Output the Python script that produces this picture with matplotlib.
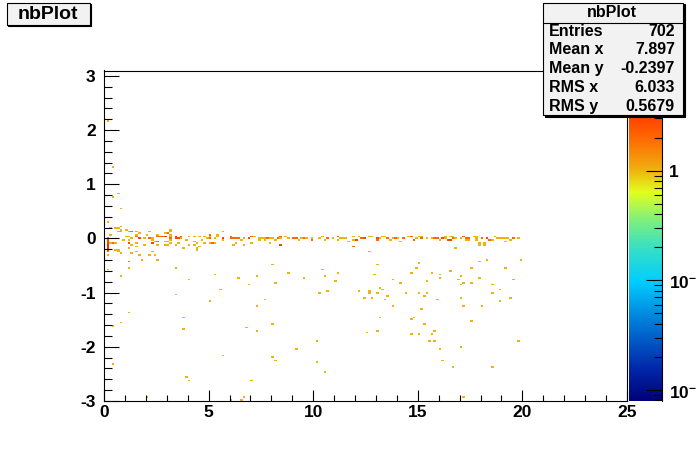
import numpy as np
import matplotlib
matplotlib.use('Agg')
import matplotlib.pyplot as plt
from matplotlib.colors import LinearSegmentedColormap, LogNorm
from matplotlib.patches import Rectangle
from matplotlib.ticker import LogLocator, MultipleLocator, NullFormatter

plt.rcParams['font.family'] = ['Liberation Sans', 'DejaVu Sans']
plt.rcParams['font.weight'] = 'bold'
plt.rcParams['mathtext.fontset'] = 'custom'
plt.rcParams['mathtext.bf'] = 'Liberation Sans:bold'
plt.rcParams['mathtext.rm'] = 'Liberation Sans:bold'
plt.rcParams['axes.unicode_minus'] = False
plt.rcParams['mathtext.default'] = 'bf'

title = 'nbPlot'
stat_names = ['Entries', 'Mean x', 'Mean y', 'RMS x', 'RMS y']
stat_values = ['702', '7.897', '-0.2397', '6.033', '0.5679']

# scattered entries, (x, y)
sparse = [
 (.24,-.59),(.84,-.70),(1.13,-.43),(1.13,-.54),(1.24,-1.38),(.76,-1.56),(.41,-1.61),(.41,-2.31),
 (2.60,-.39),(3.43,-.55),(4.03,-.76),(3.43,-1.03),(3.82,-1.47),(3.82,-1.66),(5.34,-.68),(6.45,-.73),
 (5.55,-.94),(5.11,-1.15),(6.93,-.86),(7.31,-.70),(8.13,-.81),(8.01,-.48),(8.84,-.65),(9.50,-.73),
 (7.74,-1.13),(7.31,-1.26),(6.84,-1.64),(7.31,-1.71),(8.01,-1.59),(9.13,-2.05),(5.64,-2.16),(8.01,-2.18),
 (8.22,-2.25),(3.90,-2.56),(4.03,-2.63),(7.01,-2.63),(6.64,-2.91),(6.55,-2.98),(6.02,-2.98),(2.07,-2.93),
 (11.90,-.16),(12.71,-.23),(13.11,-.48),(10.42,-.59),(11.14,-.63),(10.61,-.70),(11.04,-.79),(12.91,-.68),
 (13.81,-.76),(14.18,-.83),(15.10,-.46),(14.91,-.55),(14.72,-.63),(15.63,-.65),(16.01,-.68),(16.01,-.73),
 (15.42,-.79),(16.51,-.61),(16.83,-.19),(17.93,-.11),(18.21,-.11),(17.93,-.41),(18.31,-.39),(17.59,-.55),
 (17.12,-.70),(16.92,-.76),(17.21,-.83),(17.59,-.81),(17.93,-.73),(17.02,-.86),(19.22,-.55),(19.92,-.39),
 (19.60,-.76),(18.50,-.86),(18.93,-.94),(18.50,-1.01),(19.41,-1.08),(18.93,-1.16),(17.02,-1.08),(10.33,-1.01),
 (10.71,-.96),(12.24,-.98),(12.72,-.96),(12.72,-1.01),(13.0,-1.01),(12.43,-1.08),(12.81,-1.08),(13.24,-.92),
 (13.32,-.94),(13.43,-1.13),(13.62,-1.05),(14.44,-1.01),(15.01,-1.01),(15.30,-1.05),(15.42,-1.01),(15.92,-1.13),
 (13.81,-1.26),(15.2,-1.31),(17.21,-1.26),(18.02,-1.26),(13.24,-1.46),(14.63,-1.48),(14.82,-1.46),(15.30,-1.59),
 (17.59,-1.51),(12.52,-1.74),(13.11,-1.71),(14.72,-1.75),(15.10,-1.75),(15.82,-1.71),(15.63,-1.78),(10.23,-1.88),
 (15.54,-1.88),(15.82,-1.88),(19.79,-1.88),(16.01,-2.03),(17.02,-2.01),(10.23,-2.28),(10.61,-2.48),(16.2,-2.25),
 (16.73,-2.38),(18.50,-2.36),(17.21,-2.91),
 (.14,2.16),(.43,1.32),(.64,.84),(.48,.76),(.76,.55),(.14,.30),
]

# entries close to y = 0, (x, y, count)
band = [
 (.15,-.03,3),(.15,-.06,3),(.15,-.09,3),(.15,-.12,4),(.15,-.15,4),(.15,-.18,4),(.15,-.21,3),(.15,-.24,2),(.2,-.31,1),(.15,.01,2),(.3,-.08,1),(.4,-.08,1),
 (.32,.18,1),(.64,.18,1),(.84,.21,1),(.32,.06,1),(.64,.12,1),(.84,.12,1),(1.0,.15,1),(1.24,.12,1),(1.32,.12,2),
 (1.56,.14,1),(1.67,.09,1),(1.56,.06,1),(2.04,.06,1),(2.52,.06,1),(3.23,.14,1),(3.0,.09,1),(5.70,.12,1),(5.07,.06,1),(5.39,.06,1),
 (.62,.19,1),(.78,.15,1),(1.05,.02,1),(1.2,.02,1),(1.33,.0,1),(1.5,.02,2),(1.69,-.01,3),(1.98,.01,1),(2.2,.12,1),
 (2.14,.0,2),(2.3,.0,1),(2.53,.02,2),(2.74,.02,2),(2.37,-.04,1),(2.45,-.06,1),(2.62,-.07,2),(2.53,-.13,1),(2.37,-.1,3),
 (1.15,-.08,3),(.89,-.04,1),(1.15,-.02,1),(1.5,-.08,1),(1.94,-.12,1),(1.5,-.14,1),(1.3,-.12,1),(.38,-.08,1),(.5,-.08,1),
 (.5,-.22,1),(.7,-.22,1),(.7,-.25,1),(.78,-.27,1),(1.15,-.19,1),(1.58,-.24,1),(1.3,-.28,1),(1.66,-.31,1),(1.82,-.4,1),
 (2.14,-.31,1),(2.37,-.24,1),(2.45,-.31,1),(1.15,-.42,1),
 (2.76,.02,2),(2.92,.02,3),(3.16,.02,1),(3.16,-.01,2),(3.48,.02,3),(3.64,.02,3),(3.45,-.01,3),(3.56,-.01,3),(3.72,-.01,1),
 (3.24,-.04,1),(2.92,-.06,1),(3.03,-.06,1),(2.92,-.12,1),(3.08,-.12,1),(3.24,-.08,1),(3.4,-.12,1),(3.56,-.08,1),(3.8,-.18,1),
 (3.24,.15,1),(2.92,.09,1),(3.08,.09,1),(3.13,.07,1),(4.03,.02,1),(3.99,-.04,1),(4.3,.02,1),(4.27,-.06,1),(4.03,-.12,1),
 (4.35,-.12,1),(4.43,-.08,1),(4.59,.02,1),(4.72,-.04,1),(4.75,-.08,1),(4.43,-.18,1),(4.62,-.16,1),(4.43,-.2,1),(4.75,.02,1),
 (4.91,-.01,1),(5.07,.02,1),(5.1,.05,1),(5.1,-.01,2),(5.23,-.08,2),(5.07,-.08,1),(5.31,-.08,1),(5.47,.02,1),(5.31,-.01,1),
 (5.7,-.01,3),(5.7,-.04,1),(6.0,.02,2),(6.1,-.01,2),(6.2,.0,2),(6.3,.0,2),(6.4,.0,2),(6.3,-.08,1),(6.2,-.12,1),(6.5,-.04,1),
 (6.66,-.01,1),(6.9,.0,3),(6.66,-.12,1),
 (7.06,.02,2),(7.14,.02,1),(7.11,-.08,1),(7.38,-.01,1),(7.38,-.04,1),(7.5,-.01,1),(7.73,.0,1),(7.73,-.04,1),(7.81,-.01,2),
 (7.93,.0,1),(7.93,-.08,1),(8.09,.0,1),(8.17,-.03,1),(8.25,.0,2),(8.38,.02,2),(8.49,-.01,1),(8.49,-.13,3),(8.73,.03,1),
 (8.81,-.01,1),(9.02,-.01,2),(9.21,.0,2),(9.32,-.03,1),(9.45,-.01,1),(9.61,-.01,2),(9.72,.0,1),(9.9,.0,1),(9.98,-.03,2),
 (10.33,-.01,1),(10.4,.02,1),(10.65,.0,1),(10.72,.0,1),(10.88,.0,1),(10.61,-.04,1),(11.2,.02,2),(11.2,-.03,1),
 (11.36,-.01,1),(11.44,-.01,1),(11.52,-.01,1),(11.71,-.06,1),(11.89,.02,1),(12.0,-.03,2),(11.92,-.03,1),(12.0,-.04,1),
 (11.89,-.16,1),(12.21,.02,1),(12.37,-.01,2),(12.48,-.01,3),(12.64,.02,1),(12.83,.02,1),(13.0,.0,3),(13.0,-.03,2),
 (13.2,-.01,1),(13.36,.02,1),(13.43,.02,1),(13.59,.0,2),(13.64,-.03,1),(13.9,-.01,2),(13.83,.0,1),(14.11,-.01,1),
 (14.29,.0,1),(14.29,-.01,1),(14.2,-.06,1),(14.55,.02,1),(14.71,.02,2),(14.87,-.03,2),(14.98,.0,1),(15.1,.03,1),
 (15.23,-.01,2),(15.23,.02,1),(15.39,-.01,1),
 (15.71,-.01,1),(15.82,.0,2),(15.9,-.01,1),(15.98,-.01,1),(16.09,-.04,1),(16.2,.0,3),(16.29,-.01,1),(16.37,.02,1),
 (16.53,.02,1),(16.69,.02,1),(16.49,-.04,3),(16.57,-.04,3),(16.73,-.01,2),(16.82,-.01,1),(17.02,-.01,1),(17.13,.02,2),
 (17.25,.0,1),(17.3,-.01,1),(17.3,-.04,1),(17.49,.0,2),(17.46,-.03,1),(17.68,.02,1),(17.81,.03,1),(17.81,.0,1),(17.81,-.03,1),
 (18.1,.0,1),(18.1,-.01,1),(18.29,.0,2),(18.4,-.03,2),(18.37,.0,1),(18.57,-.04,1),(18.69,.02,1),(18.77,-.01,1),(18.9,-.01,1),
 (19.0,-.01,1),(19.21,.0,1),(19.29,-.01,1),(19.21,-.06,1),(19.4,-.04,1),(19.56,.0,2),(19.79,-.01,1),(17.9,-.1,1),(18.21,-.1,1),
]

colour_stops = [
 (0.00, (0, 0, 120)), (0.10, (0, 40, 170)), (0.25, (0, 130, 220)), (0.36, (0, 205, 255)),
 (0.47, (60, 225, 190)), (0.55, (130, 240, 120)), (0.63, (225, 255, 30)), (0.70, (240, 175, 15)),
 (0.80, (255, 100, 0)), (0.87, (255, 60, 0)), (1.00, (200, 0, 0)),
]
z_low, z_high = 0.0079, 8.2
x_low, x_high, y_low, y_high = 0, 25, -3, 3.1
n_bins = 200

cmap = LinearSegmentedColormap.from_list(
    'rootrainbow', [(p, tuple(v / 255 for v in c)) for p, c in colour_stops], N=512)
norm = LogNorm(z_low, z_high)

W, H = 696, 472
fig = plt.figure(figsize=(W / 100, H / 100), dpi=100, facecolor='white')

def frame(l, t, r, b):
    return [l / W, 1 - b / H, (r - l) / W, (b - t) / H]

lw = 0.8
ax = fig.add_axes(frame(104, 70.5, 627, 401))
xs = [p[0] for p in sparse] + [p[0] for p in band]
ys = [p[1] for p in sparse] + [p[1] for p in band]
ws = [1] * len(sparse) + [p[2] for p in band]
xe = np.linspace(x_low, x_high, n_bins + 1)
ye = np.linspace(y_low, y_high, n_bins + 1)
h, _, _ = np.histogram2d(xs, ys, bins=[xe, ye], weights=ws)
ax.pcolormesh(xe, ye, np.ma.masked_equal(np.minimum(h.T, 4), 0), cmap=cmap, norm=norm, rasterized=True)
ax.set_xlim(x_low, x_high)
ax.set_ylim(y_low, y_high)
ax.xaxis.set_major_locator(MultipleLocator(5))
ax.xaxis.set_minor_locator(MultipleLocator(1))
ax.yaxis.set_major_locator(MultipleLocator(1))
ax.yaxis.set_minor_locator(MultipleLocator(0.2))
ax.tick_params(which='major', axis='x', direction='in', length=8, width=lw, labelsize=12.5, pad=3)
ax.tick_params(which='minor', axis='x', direction='in', length=4.3, width=lw)
ax.tick_params(which='major', axis='y', direction='in', length=11, width=lw, labelsize=12.5, pad=6)
ax.tick_params(which='minor', axis='y', direction='in', length=5.6, width=lw)
for s in ax.spines.values():
    s.set_linewidth(lw)

cax = fig.add_axes(frame(629, 70.5, 661.5, 401))
zz = np.logspace(np.log10(z_low), np.log10(z_high), 512)
cax.pcolormesh([0, 1], zz, zz[:-1, None], cmap=cmap, norm=norm, rasterized=True)
cax.set_yscale('log')
cax.set_ylim(z_low, z_high)
cax.set_xlim(0, 1)
cax.set_xticks([])
cax.yaxis.tick_right()
cax.yaxis.set_major_locator(LogLocator(10, numticks=6))
cax.yaxis.set_minor_locator(LogLocator(10, subs=np.arange(2, 10) * 0.1, numticks=12))
cax.yaxis.set_minor_formatter(NullFormatter())
cax.set_yticks([0.01, 0.1, 1])
cax.set_yticklabels([r'$\mathbf{10^{-2}}$', r'$\mathbf{10^{-1}}$', '1'])
cax.tick_params(which='major', axis='y', direction='in', length=11.5, width=lw, labelsize=12.5, pad=5.5, right=True)
cax.tick_params(which='minor', axis='y', direction='in', length=5.8, width=lw, right=True)
for n in ('top', 'left', 'bottom'):
    cax.spines[n].set_visible(False)
cax.spines['right'].set_linewidth(lw)

ov = fig.add_axes([0, 0, 1, 1], zorder=10)
ov.set_xlim(0, W)
ov.set_ylim(H, 0)
ov.axis('off')
ov.patch.set_alpha(0)

def box(l, t, r, b, fc='#f2f2f2'):
    ov.add_patch(Rectangle((l + 1.5, t + 1.5), r - l, b - t, fc='black', ec='black', lw=lw))
    ov.add_patch(Rectangle((l, t), r - l, b - t, fc=fc, ec='black', lw=lw))

box(6.5, 2.5, 89.5, 24.5)
ov.text(48, 14.5, title, ha='center', va='center', fontsize=14, fontweight='bold', color='black')
box(543, 2.5, 683, 115)
ov.plot([543, 683], [22.5, 22.5], color='black', lw=lw)
ov.text(612, 12.5, title, ha='center', va='center', fontsize=11.5, fontweight='bold', color='black')
for i, (n, v) in enumerate(zip(stat_names, stat_values)):
    y = 31 + i * 18.9
    ov.text(549, y, n, ha='left', va='center', fontsize=11.5, fontweight='bold', color='black')
    ov.text(675, y, v, ha='right', va='center', fontsize=11.5, fontweight='bold', color='black')

fig.savefig('out.png', dpi=100, facecolor='white')
